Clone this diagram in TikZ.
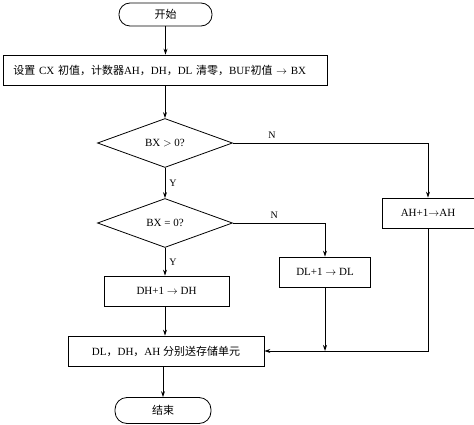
\documentclass[tikz,border=0pt]{standalone}
\usepackage{fontspec}
\setmainfont{Liberation Serif}
\newfontfamily\cjk{Noto Sans CJK SC}
\usetikzlibrary{shapes.geometric,arrows.meta}
\newcommand{\zh}[1]{{\cjk #1}}
\begin{document}
\begin{tikzpicture}[x=1pt,y=-1pt,
  font=\fontsize{11pt}{13pt}\selectfont,
  line width=0.8pt,
  every node/.style={inner sep=0pt},
  term/.style={draw,rounded corners=11pt,minimum width=93pt,minimum height=23pt},
  proc/.style={draw,minimum height=30pt},
  decision/.style={draw,diamond,aspect=2.75,minimum width=135pt,minimum height=49pt},
  flow/.style={-{Stealth[length=6pt,width=4pt]}},
  lab/.style={font=\fontsize{10pt}{12pt}\selectfont}]
\useasboundingbox (0,0) rectangle (474,425);
\node[term] (start) at (165.5,14.5) {\zh{开始}};
\node[proc,minimum width=324pt,anchor=west,text width=304pt,align=left] (init) at (3,70) {\zh{设置} CX \zh{初值，计数器}AH\zh{，}DH\zh{，}DL \zh{清零，}BUF\zh{初值} $\rightarrow$ BX};
\node[decision] (d1) at (165,143) {BX $>$ 0?};
\node[decision] (d2) at (165,223) {BX = 0?};
\node[proc,minimum width=92pt] (ah) at (428,213) {AH+1$\rightarrow$AH};
\node[proc,minimum width=91pt] (dl) at (325,272) {DL+1 $\rightarrow$ DL};
\node[proc,minimum width=125pt] (dh) at (166.5,291) {DH+1 $\rightarrow$ DH};
\node[proc,minimum width=196pt] (out) at (166,351) {DL\zh{，}DH\zh{，}AH \zh{分别送存储单元}};
\node[term,minimum width=96pt,minimum height=26pt,rounded corners=12pt] (end) at (163,410.5) {\zh{结束}};
\coordinate (j) at (dl.south |- out.east);
\draw[flow] (start) -- (init.north -| start);
\draw[flow] (init.south -| d1) -- (d1.north);
\draw[flow] (d1.east) -- (d1.east -| ah) node[lab,pos=0.2,above=4pt] {N} -- (ah.north);
\draw[flow] (d1.south) -- node[lab,right=4pt] {Y} (d2.north);
\draw[flow] (d2.east) -- (d2.east -| dl) node[lab,pos=0.45,above=4pt] {N} -- (dl.north);
\draw[flow] (d2.south) -- node[lab,right=4pt] {Y} (dh.north -| d2);
\draw[flow] (dh.south -| d2) -- (out.north -| d2);
\draw[flow] (dl.south) -- (j);
\draw[flow] (ah.south) |- (out.east);
\draw[flow] (out.south -| end) -- (end.north);
\end{tikzpicture}
\end{document}
